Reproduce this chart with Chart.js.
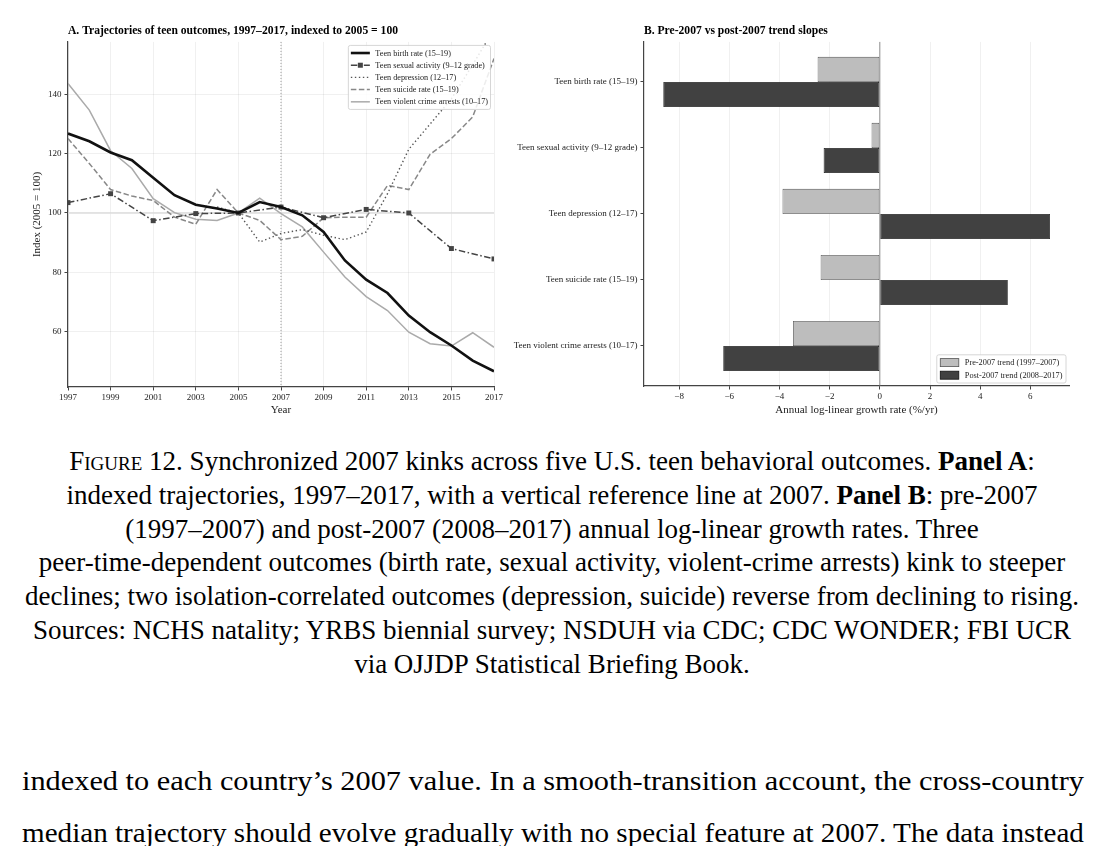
<!DOCTYPE html>
<html>
<head>
<meta charset="utf-8">
<script src="https://cdn.jsdelivr.net/npm/chart.js@4.4.1/dist/chart.umd.min.js"></script>
<style>
  body { margin: 0; background: #fff; width: 1104px; height: 846px; overflow: hidden; position: relative; font-family: "Liberation Serif", "Times New Roman", serif; color: #000; }
  #panelA { position: absolute; left: 0; top: 0; width: 520px; height: 420px; }
  #panelB { position: absolute; left: 500px; top: 0; width: 604px; height: 420px; }
  .caption { position: absolute; left: 0; top: 445px; width: 1104px; text-align: center; font-size: 27px; line-height: 33.8px; }
  .sc { font-variant: small-caps; }
  .bodyline { position: absolute; left: 22px; font-size: 27.5px; line-height: 32px; white-space: nowrap; transform-origin: 0 0; }
</style>
</head>
<body>
<div id="panelA"><canvas id="chartA"></canvas></div>
<div id="panelB"><canvas id="chartB"></canvas></div>

<div class="caption">
  <span class="sc">Figure</span> 12. Synchronized 2007 kinks across five U.S. teen behavioral outcomes. <b>Panel A</b>:<br>
  indexed trajectories, 1997–2017, with a vertical reference line at 2007. <b>Panel B</b>: pre-2007<br>
  (1997–2007) and post-2007 (2008–2017) annual log-linear growth rates. Three<br>
  peer-time-dependent outcomes (birth rate, sexual activity, violent-crime arrests) kink to steeper<br>
  declines; two isolation-correlated outcomes (depression, suicide) reverse from declining to rising.<br>
  Sources: NCHS natality; YRBS biennial survey; NSDUH via CDC; CDC WONDER; FBI UCR<br>
  via OJJDP Statistical Briefing Book.
</div>
<div class="bodyline" style="top:765px">indexed to each country’s 2007 value. In a smooth-transition account, the cross-country</div>
<div class="bodyline" style="top:817px">median trajectory should evolve gradually with no special feature at 2007. The data instead</div>

<script>
// ---- data: panel A (index, 2005 = 100) ----
const years = [1997, 1998, 1999, 2000, 2001, 2002, 2003, 2004, 2005, 2006, 2007,
               2008, 2009, 2010, 2011, 2012, 2013, 2014, 2015, 2016, 2017];
const birthRate = [126.8, 124.2, 120.4, 117.8, 111.9, 106.0, 102.8, 101.5, 100, 103.7, 102.0,
                   99.2, 93.6, 84.0, 77.5, 73.0, 65.4, 59.8, 55.3, 50.2, 46.6];
const surveyYears = [1997, 1999, 2001, 2003, 2005, 2007, 2009, 2011, 2013, 2015, 2017];
const sexualActivity = [103.5, 106.5, 97.4, 99.8, 100, 102.0, 98.4, 101.2, 100, 88.0, 84.5];
const depression = [null, null, null, null, null, null, null, 102.0, 100, 90.2, 93.1,
                    94.4, 92.5, 91.0, 93.6, 106.5, 121.5, 130.0, 138.5, 150.0, 162.0];
const suicide = [125.1, 116.7, 107.9, 105.7, 104.2, 98.6, 96.2, 107.9, 100, 97.5, 91.0,
                 92.1, 98.4, 98.6, 98.6, 109.3, 107.9, 119.8, 125.1, 132.4, 152.1];
const violentCrime = [143.7, 134.7, 121.0, 115.0, 104.8, 100.1, 97.9, 97.5, 100, 105.0, 99.8,
                      95.3, 86.8, 78.4, 71.8, 67.1, 59.8, 55.9, 55.1, 59.6, 54.7];
const xTicksA = [1997, 1999, 2001, 2003, 2005, 2007, 2009, 2011, 2013, 2015, 2017];
const yTicksA = [60, 80, 100, 120, 140];

// ---- data: panel B (annual log-linear growth, %/yr) ----
const outcomes = ['Teen birth rate (15–19)', 'Teen sexual activity (9–12 grade)', 'Teen depression (12–17)',
                  'Teen suicide rate (15–19)', 'Teen violent crime arrests (10–17)'];
const preTrend = [-2.48, -0.33, -3.88, -2.36, -3.46];
const postTrend = [-8.63, -2.24, 6.78, 5.10, -6.24];
const xTicksB = [-8, -6, -4, -2, 0, 2, 4, 6];

const SERIF = '"Liberation Serif", "Times New Roman", serif';
const tickFont = { family: SERIF, size: 9 };
const titleFont = { family: SERIF, size: 11.6, weight: 'bold' };
const axisTitleFont = { family: SERIF, size: 11 };
const gridColor = 'rgba(0,0,0,0.06)';
const spineColor = '#444';

const pts = (xs, ys) => xs.map((x, i) => ({ x: x, y: ys[i] }));

// reference lines drawn through the chart's scales
const refLines = {
  id: 'refLines',
  beforeDatasetsDraw(chart, args, opts) {
    const { ctx, chartArea: a } = chart;
    const xs = chart.scales.x, ys = chart.scales.y;
    ctx.save();
    (opts.h || []).forEach(l => {
      const py = ys.getPixelForValue(l.value);
      ctx.strokeStyle = l.color; ctx.lineWidth = l.width; ctx.setLineDash(l.dash || []);
      ctx.beginPath(); ctx.moveTo(a.left, py); ctx.lineTo(a.right, py); ctx.stroke();
    });
    (opts.v || []).forEach(l => {
      const px = xs.getPixelForValue(l.value);
      ctx.strokeStyle = l.color; ctx.lineWidth = l.width; ctx.setLineDash(l.dash || []);
      ctx.beginPath(); ctx.moveTo(px, a.top); ctx.lineTo(px, a.bottom); ctx.stroke();
    });
    ctx.restore();
  }
};

// matplotlib-like framed legend inside the axes
const boxLegend = {
  id: 'boxLegend',
  afterDraw(chart, args, o) {
    const { ctx, chartArea: a } = chart;
    const items = chart.data.datasets;
    ctx.save();
    ctx.font = o.fontSize + 'px ' + SERIF;
    const textW = Math.max(...items.map(d => ctx.measureText(d.label).width));
    const w = o.padX * 2 + o.sample + o.gap + textW;
    const h = o.padY * 2 + items.length * o.rowH;
    const x0 = a.right - o.inset - w;
    const y0 = o.corner === 'top' ? a.top + o.inset : a.bottom - o.inset - h;
    ctx.fillStyle = 'rgba(255,255,255,0.85)';
    ctx.strokeStyle = '#cccccc';
    ctx.lineWidth = 0.8;
    ctx.beginPath(); ctx.roundRect(x0, y0, w, h, 2); ctx.fill(); ctx.stroke();
    items.forEach((d, i) => {
      const cy = y0 + o.padY + o.rowH * (i + 0.5);
      const sx = x0 + o.padX;
      if (o.kind === 'line') {
        ctx.strokeStyle = d.borderColor; ctx.lineWidth = d.borderWidth;
        ctx.setLineDash(d.borderDash || []);
        ctx.beginPath(); ctx.moveTo(sx, cy); ctx.lineTo(sx + o.sample, cy); ctx.stroke();
        ctx.setLineDash([]);
        if (d.pointRadius > 0) {
          ctx.fillStyle = d.pointBackgroundColor;
          ctx.fillRect(sx + o.sample / 2 - 2.5, cy - 2.5, 5, 5);
        }
      } else {
        ctx.fillStyle = d.backgroundColor; ctx.strokeStyle = d.borderColor; ctx.lineWidth = 0.8;
        ctx.fillRect(sx, cy - 4, o.sample, 8); ctx.strokeRect(sx, cy - 4, o.sample, 8);
      }
      ctx.fillStyle = '#222'; ctx.textBaseline = 'middle'; ctx.textAlign = 'left';
      ctx.fillText(d.label, sx + o.sample + o.gap, cy + 0.5);
    });
    ctx.restore();
  }
};

const fmtMinus = v => (v < 0 ? '\u2212' + Math.abs(v) : String(v));

// ---- Panel A ----
new Chart(document.getElementById('chartA'), {
  type: 'line',
  data: {
    datasets: [
      { label: 'Teen birth rate (15–19)', data: pts(years, birthRate), borderColor: '#111', borderWidth: 2.6, pointRadius: 0 },
      { label: 'Teen sexual activity (9–12 grade)', data: pts(surveyYears, sexualActivity), borderColor: '#444', borderWidth: 1.5,
        borderDash: [6.5, 2.5, 1.5, 2.5], pointStyle: 'rect', pointRadius: 3.5, pointBackgroundColor: '#444', pointBorderColor: '#444', pointBorderWidth: 0 },
      { label: 'Teen depression (12–17)', data: pts(years, depression), borderColor: '#555', borderWidth: 1.4, borderDash: [1.4, 2.6], pointRadius: 0 },
      { label: 'Teen suicide rate (15–19)', data: pts(years, suicide), borderColor: '#888', borderWidth: 1.5, borderDash: [5.5, 2.5], pointRadius: 0 },
      { label: 'Teen violent crime arrests (10–17)', data: pts(years, violentCrime), borderColor: '#aaa', borderWidth: 1.5, pointRadius: 0 }
    ]
  },
  options: {
    responsive: true, maintainAspectRatio: false, animation: false, events: [],
    layout: { padding: { left: 0, right: 26, top: 0, bottom: 0 } },
    elements: { line: { tension: 0, fill: false } },
    scales: {
      x: {
        type: 'linear', min: 1997, max: 2017,
        afterBuildTicks: s => { s.ticks = xTicksA.map(v => ({ value: v })); },
        afterFit: s => { s.height = 33; },
        ticks: { font: tickFont, color: '#222', padding: 2, maxRotation: 0, callback: v => String(v) },
        grid: { color: gridColor, tickColor: spineColor, tickLength: 3.5 },
        border: { color: spineColor, width: 1.2 },
        title: { display: true, text: 'Year', font: axisTitleFont, color: '#222', padding: { top: 0, bottom: 3.5 } }
      },
      y: {
        type: 'linear', min: 41.3, max: 157.7,
        afterBuildTicks: s => { s.ticks = yTicksA.map(v => ({ value: v })); },
        afterFit: s => { s.width = 68; },
        ticks: { font: tickFont, color: '#222', padding: 3 },
        grid: { color: gridColor, tickColor: spineColor, tickLength: 3.5 },
        border: { color: spineColor, width: 1.2 },
        title: { display: true, text: 'Index (2005 = 100)', font: axisTitleFont, color: '#222', padding: { top: 30.5, bottom: 0 } }
      }
    },
    plugins: {
      legend: { display: false },
      tooltip: { enabled: false },
      title: { display: true, text: 'A. Trajectories of teen outcomes, 1997–2017, indexed to 2005 = 100', align: 'start', fullSize: false,
               font: titleFont, color: '#000', padding: { top: 24, bottom: 4 } },
      refLines: { h: [{ value: 100, color: '#dcdcdc', width: 1.6 }], v: [{ value: 2007, color: '#888', width: 0.9, dash: [1, 2] }] },
      boxLegend: { kind: 'line', corner: 'top', inset: 3.5, padX: 2.5, padY: 1.5, rowH: 12.2, sample: 19, gap: 5.5, fontSize: 8.2 }
    }
  },
  plugins: [refLines, boxLegend]
});

// ---- Panel B ----
const padCats = 0.106; // extra margin (in category units) above/below the groups
new Chart(document.getElementById('chartB'), {
  type: 'bar',
  data: {
    labels: outcomes,
    datasets: [
      { label: 'Pre-2007 trend (1997–2007)', data: preTrend, backgroundColor: '#bdbdbd', borderColor: '#555', borderWidth: 0.8, borderSkipped: false,
        categoryPercentage: 0.76, barPercentage: 1 },
      { label: 'Post-2007 trend (2008–2017)', data: postTrend, backgroundColor: '#414141', borderColor: '#111', borderWidth: 0.8, borderSkipped: false,
        categoryPercentage: 0.76, barPercentage: 1 }
    ]
  },
  options: {
    indexAxis: 'y',
    responsive: true, maintainAspectRatio: false, animation: false, events: [],
    layout: { padding: { left: 0, right: 35, top: 0, bottom: 0 } },
    scales: {
      x: {
        type: 'linear', min: -9.4, max: 7.54,
        afterBuildTicks: s => { s.ticks = xTicksB.map(v => ({ value: v })); },
        afterFit: s => { s.height = 34; },
        ticks: { font: tickFont, color: '#222', padding: 2, callback: v => fmtMinus(v) },
        grid: { color: gridColor, tickColor: spineColor, tickLength: 3.5 },
        border: { color: spineColor, width: 1.2 },
        title: { display: true, text: 'Annual log-linear growth rate (%/yr)', font: axisTitleFont, color: '#222', padding: { top: 0, bottom: 3.5 } }
      },
      y: {
        afterBuildTicks: s => { s._startValue -= padCats; s._valueRange += 2 * padCats; },
        afterFit: s => { s.width = 144; },
        ticks: { font: tickFont, color: '#222', padding: 3 },
        grid: { offset: false, drawOnChartArea: false, tickColor: spineColor, tickLength: 3.5 },
        border: { color: spineColor, width: 1.2 }
      }
    },
    plugins: {
      legend: { display: false },
      tooltip: { enabled: false },
      title: { display: true, text: 'B. Pre-2007 vs post-2007 trend slopes', align: 'start', fullSize: false,
               font: titleFont, color: '#000', padding: { top: 24, bottom: 4 } },
      refLines: { v: [{ value: 0, color: '#777', width: 0.8 }] },
      boxLegend: { kind: 'patch', corner: 'bottom', inset: 3, padX: 3.5, padY: 1.5, rowH: 12.6, sample: 18.5, gap: 6, fontSize: 8.3 }
    }
  },
  plugins: [refLines, boxLegend]
});

// fit the two running-text lines to the text block width
document.querySelectorAll('.bodyline').forEach(el => {
  const w = el.scrollWidth;
  el.style.transform = 'scaleX(' + (1062 / w) + ')';
});
</script>
</body>
</html>
